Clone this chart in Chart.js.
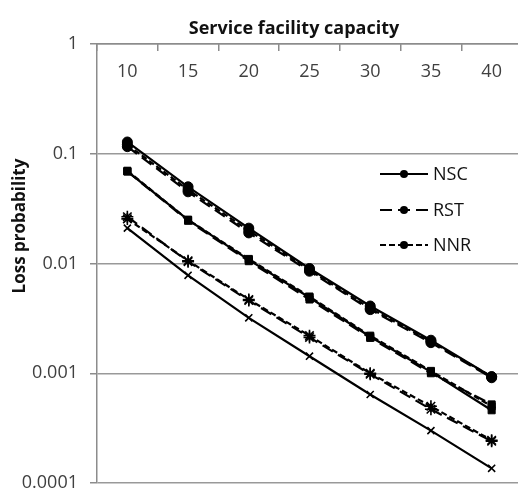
<!DOCTYPE html>
<html>
<head>
<meta charset="utf-8">
<script src="https://cdn.jsdelivr.net/npm/chart.js@4/dist/chart.umd.min.js"></script>
<style>
  html, body { margin: 0; padding: 0; background: #fff; overflow: hidden; }
  #wrap { width: 530px; height: 493px; }
</style>
</head>
<body>
<div id="wrap"><canvas id="lossChart" width="530" height="493"></canvas></div>
<script>
// categories and tick labels
var capacities = ['10', '15', '20', '25', '30', '35', '40'];
var yTicks = [0.0001, 0.001, 0.01, 0.1, 1];
var yTickLabels = ['0.0001', '0.001', '0.01', '0.1', '1'];
var legendNames = ['NSC', 'RST', 'NNR'];

// circle group
var nscCircle = [0.128, 0.050, 0.0210, 0.0090, 0.0041, 0.00200, 0.00093];
var rstCircle = [0.116, 0.045, 0.0190, 0.0085, 0.0038, 0.00190, 0.00091];
var nnrCircle = [0.121, 0.047, 0.0200, 0.0087, 0.0039, 0.00195, 0.00093];
// square group
var nscSquare = [0.069, 0.0250, 0.0108, 0.0049, 0.00215, 0.00103, 0.00046];
var rstSquare = [0.069, 0.0245, 0.0105, 0.0047, 0.00210, 0.00100, 0.00052];
var nnrSquare = [0.070, 0.0250, 0.0110, 0.0050, 0.00220, 0.00105, 0.00050];
// cross group
var nscCross = [0.0210, 0.0078, 0.0032, 0.00143, 0.00064, 0.00030, 0.000136];
var rstCross = [0.0267, 0.0104, 0.0046, 0.00212, 0.00098, 0.00047, 0.00024];
var nnrCross = [0.0255, 0.0106, 0.0047, 0.00220, 0.00100, 0.00050, 0.000245];

var dashes = [[], [12, 6], [6, 3]];

function series(label, data, dashIdx, marker, radius) {
    return {
        label: label,
        data: data,
        borderColor: '#000',
        backgroundColor: '#000',
        borderWidth: 2.2,
        borderDash: dashes[dashIdx],
        pointStyle: marker,
        pointRadius: radius,
        pointBorderWidth: marker === 'crossRot' || marker === 'star' ? 1.6 : 1,
        pointBorderColor: '#000',
        pointBackgroundColor: '#000',
        tension: 0,
        fill: false
    };
}

var extraText = {
    id: 'extraText',
    afterDraw: function (chart) {
        var ctx = chart.ctx;
        var xs = chart.scales.x;
        var area = chart.chartArea;
        ctx.save();
        // x tick labels inside plot, under the top axis
        ctx.fillStyle = '#404040';
        ctx.font = '18px "Open Sans"';
        ctx.textAlign = 'center';
        ctx.textBaseline = 'middle';
        capacities.forEach(function (c, i) {
            ctx.fillText(c, xs.getPixelForValue(i), area.top + 28);
        });
        // axis titles
        ctx.fillStyle = '#111';
        ctx.font = 'bold 18px "Open Sans"';
        ctx.fillText('Service facility capacity', 294, 29);
        ctx.save();
        ctx.translate(20, 226);
        ctx.rotate(-Math.PI / 2);
        ctx.font = 'bold 17px "Open Sans"';
        ctx.fillText('Loss probability', 0, 0);
        ctx.restore();
        // legend
        ctx.font = '18px "Open Sans"';
        ctx.textAlign = 'left';
        var rows = [174, 210, 245];
        for (var k = 0; k < 3; k++) {
            var ds = chart.data.datasets[k];
            var y = rows[k];
            ctx.strokeStyle = '#000';
            ctx.lineWidth = 2;
            ctx.setLineDash(ds.borderDash);
            ctx.beginPath();
            ctx.moveTo(380, y);
            ctx.lineTo(428, y);
            ctx.stroke();
            ctx.setLineDash([]);
            ctx.beginPath();
            ctx.arc(404, y, 4, 0, Math.PI * 2);
            ctx.fillStyle = '#000';
            ctx.fill();
            ctx.fillStyle = '#111';
            ctx.fillText(legendNames[k], 433, y + 1);
        }
        ctx.restore();
    }
};

new Chart(document.getElementById('lossChart'), {
    type: 'line',
    data: {
        labels: capacities,
        datasets: [
            series('NSC', nscCircle, 0, 'circle', 5),
            series('RST', rstCircle, 1, 'circle', 5),
            series('NNR', nnrCircle, 2, 'circle', 5),
            series('NSC', nscSquare, 0, 'rect', 5),
            series('RST', rstSquare, 1, 'rect', 5),
            series('NNR', nnrSquare, 2, 'rect', 5),
            series('NSC', nscCross, 0, 'crossRot', 5),
            series('RST', rstCross, 1, 'star', 6),
            series('NNR', nnrCross, 2, 'star', 6)
        ]
    },
    options: {
        responsive: false,
        animation: false,
        layout: { padding: { top: 0, right: 8, bottom: 10, left: 0 } },
        plugins: {
            legend: { display: false },
            tooltip: { enabled: false },
            title: { display: false }
        },
        scales: {
            x: {
                type: 'category',
                position: 'top',
                offset: true,
                grid: {
                    drawOnChartArea: false,
                    offset: true,
                    drawTicks: true,
                    tickLength: -7,
                    color: '#8c8c8c',
                    lineWidth: 1.5
                },
                border: { display: true, color: '#8c8c8c', width: 1.5 },
                ticks: { display: false },
                afterFit: function (scale) { scale.height = 44; }
            },
            y: {
                type: 'logarithmic',
                min: 0.0001,
                max: 1,
                afterBuildTicks: function (scale) {
                    scale.ticks = yTicks.map(function (v) { return { value: v }; });
                },
                ticks: {
                    color: '#404040',
                    font: { family: 'Open Sans', size: 18 },
                    padding: 12,
                    autoSkip: false,
                    callback: function (value) {
                        var i = yTicks.indexOf(value);
                        return i >= 0 ? yTickLabels[i] : '';
                    }
                },
                grid: {
                    color: '#999',
                    lineWidth: 1.5,
                    tickLength: 7,
                    tickColor: '#8c8c8c'
                },
                border: { display: true, color: '#8c8c8c', width: 1.5 },
                afterFit: function (scale) {
                    scale.width = 97;
                    scale.paddingTop = 0;
                    scale.paddingBottom = 0;
                }
            }
        }
    },
    plugins: [extraText]
});
</script>
</body>
</html>
